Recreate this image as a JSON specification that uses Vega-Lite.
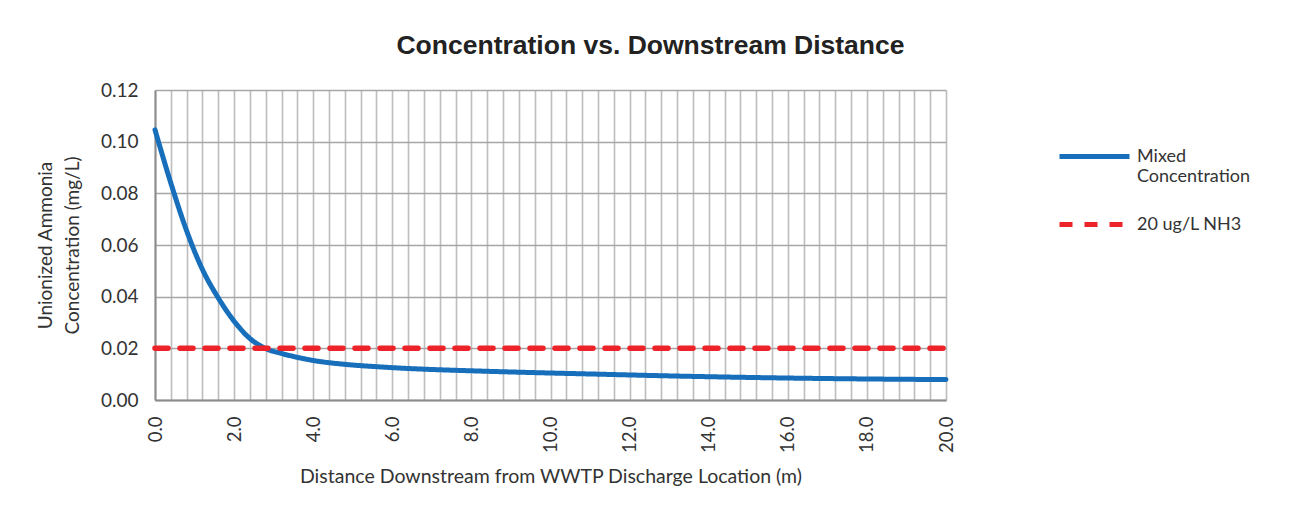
{
  "$schema": "https://vega.github.io/schema/vega-lite/v6.json",
  "width": 791,
  "height": 310,
  "autosize": {"type": "none"},
  "padding": {"left": 155, "top": 90, "right": 345, "bottom": 121},
  "background": "white",
  "config": {
    "view": {"stroke": null},
    "axis": {"labelColor": "#333333", "titleColor": "#333333", "labelFont": "Lato", "titleFont": "Lato", "titleFontWeight": "normal"}
  },
  "title": {
    "text": "Concentration vs. Downstream Distance",
    "font": "Liberation Sans",
    "fontSize": 26.5,
    "fontWeight": "bold",
    "color": "#222222",
    "anchor": "middle",
    "frame": "group",
    "dx": 100,
    "baseline": "alphabetic",
    "offset": 1
  },
  "data": {
    "values": [
      {"distance": 0, "conc": 0.1046, "series": "Mixed Concentration"},
      {"distance": 0.4, "conc": 0.0840, "series": "Mixed Concentration"},
      {"distance": 0.8, "conc": 0.0655, "series": "Mixed Concentration"},
      {"distance": 1.2, "conc": 0.0505, "series": "Mixed Concentration"},
      {"distance": 1.6, "conc": 0.0395, "series": "Mixed Concentration"},
      {"distance": 2.0, "conc": 0.0305, "series": "Mixed Concentration"},
      {"distance": 2.4, "conc": 0.0238, "series": "Mixed Concentration"},
      {"distance": 2.8, "conc": 0.0199, "series": "Mixed Concentration"},
      {"distance": 3.2, "conc": 0.0180, "series": "Mixed Concentration"},
      {"distance": 3.6, "conc": 0.0165, "series": "Mixed Concentration"},
      {"distance": 4.0, "conc": 0.0153, "series": "Mixed Concentration"},
      {"distance": 4.8, "conc": 0.0138, "series": "Mixed Concentration"},
      {"distance": 5.6, "conc": 0.0129, "series": "Mixed Concentration"},
      {"distance": 6.4, "conc": 0.0122, "series": "Mixed Concentration"},
      {"distance": 7.2, "conc": 0.0117, "series": "Mixed Concentration"},
      {"distance": 8.0, "conc": 0.0113, "series": "Mixed Concentration"},
      {"distance": 9.6, "conc": 0.0106, "series": "Mixed Concentration"},
      {"distance": 11.2, "conc": 0.0100, "series": "Mixed Concentration"},
      {"distance": 12.8, "conc": 0.0094, "series": "Mixed Concentration"},
      {"distance": 14.4, "conc": 0.0089, "series": "Mixed Concentration"},
      {"distance": 16.0, "conc": 0.0085, "series": "Mixed Concentration"},
      {"distance": 17.6, "conc": 0.0082, "series": "Mixed Concentration"},
      {"distance": 20.0, "conc": 0.0079, "series": "Mixed Concentration"},
      {"distance": 0, "conc": 0.02, "series": "20 ug/L NH3"},
      {"distance": 20, "conc": 0.02, "series": "20 ug/L NH3"}
    ]
  },
  "encoding": {
    "x": {
      "field": "distance",
      "type": "quantitative",
      "scale": {"domain": [0, 20], "nice": false, "zero": true},
      "axis": {
        "title": "Distance Downstream from WWTP Discharge Location (m)",
        "titleFontSize": 19.5,
        "titlePadding": 15,
        "values": [0,0.4,0.8,1.2,1.6,2,2.4,2.8,3.2,3.6,4,4.4,4.8,5.2,5.6,6,6.4,6.8,7.2,7.6,8,8.4,8.8,9.2,9.6,10,10.4,10.8,11.2,11.6,12,12.4,12.8,13.2,13.6,14,14.4,14.8,15.2,15.6,16,16.4,16.8,17.2,17.6,18,18.4,18.8,19.2,19.6,20],
        "labelExpr": "datum.value % 2 === 0 ? format(datum.value, '.1f') : ''",
        "labelAngle": -90,
        "labelFontSize": 18.5,
        "labelPadding": 16,
        "labelOverlap": false,
        "labelFlush": false,
        "ticks": false,
        "grid": true,
        "gridColor": "#bdbdc0",
        "gridWidth": 1.6,
        "gridOpacity": 1,
        "domainColor": "#8c8c8c",
        "domainWidth": 2
      }
    },
    "y": {
      "field": "conc",
      "type": "quantitative",
      "scale": {"domain": [0, 0.12], "nice": false},
      "axis": {
        "title": ["Unionized Ammonia", "Concentration (mg/L)"],
        "titleFontSize": 19,
        "titleLineHeight": 27,
        "titlePadding": 18,
        "values": [0, 0.02, 0.04, 0.06, 0.08, 0.1, 0.12],
        "format": ".2f",
        "labelFontSize": 19,
        "labelPadding": 17,
        "ticks": false,
        "grid": true,
        "gridColor": "#a6a6a6",
        "gridWidth": 1.6,
        "gridOpacity": 1,
        "domainColor": "#8c8c8c",
        "domainWidth": 2
      }
    },
    "color": {
      "field": "series",
      "type": "nominal",
      "scale": {"domain": ["Mixed Concentration", "20 ug/L NH3"], "range": ["#176ebb", "#ee2229"]},
      "legend": {
        "title": null,
        "orient": "none",
        "legendX": 902,
        "legendY": 29,
        "symbolType": "stroke",
        "symbolSize": 4900,
        "symbolStrokeWidth": 5,
        "rowPadding": 1,
        "labelFont": "Lato",
        "labelFontSize": 18,
        "labelColor": "#333333",
        "labelOffset": 5,
        "labelLimit": 300,
        "labelExpr": "datum.label === 'Mixed Concentration' ? ['Mixed', 'Concentration'] : datum.label"
      }
    },
    "strokeDash": {
      "field": "series",
      "type": "nominal",
      "scale": {"domain": ["Mixed Concentration", "20 ug/L NH3"], "range": [[1, 0], [13, 12]]},
      "legend": null
    }
  },
  "layer": [
    {
      "transform": [{"filter": "datum.series === 'Mixed Concentration'"}],
      "mark": {"type": "line", "strokeWidth": 5, "interpolate": "monotone", "strokeCap": "round"}
    },
    {
      "transform": [{"filter": "datum.series === '20 ug/L NH3'"}],
      "mark": {"type": "line", "strokeWidth": 5.5, "strokeCap": "round"}
    }
  ]
}
